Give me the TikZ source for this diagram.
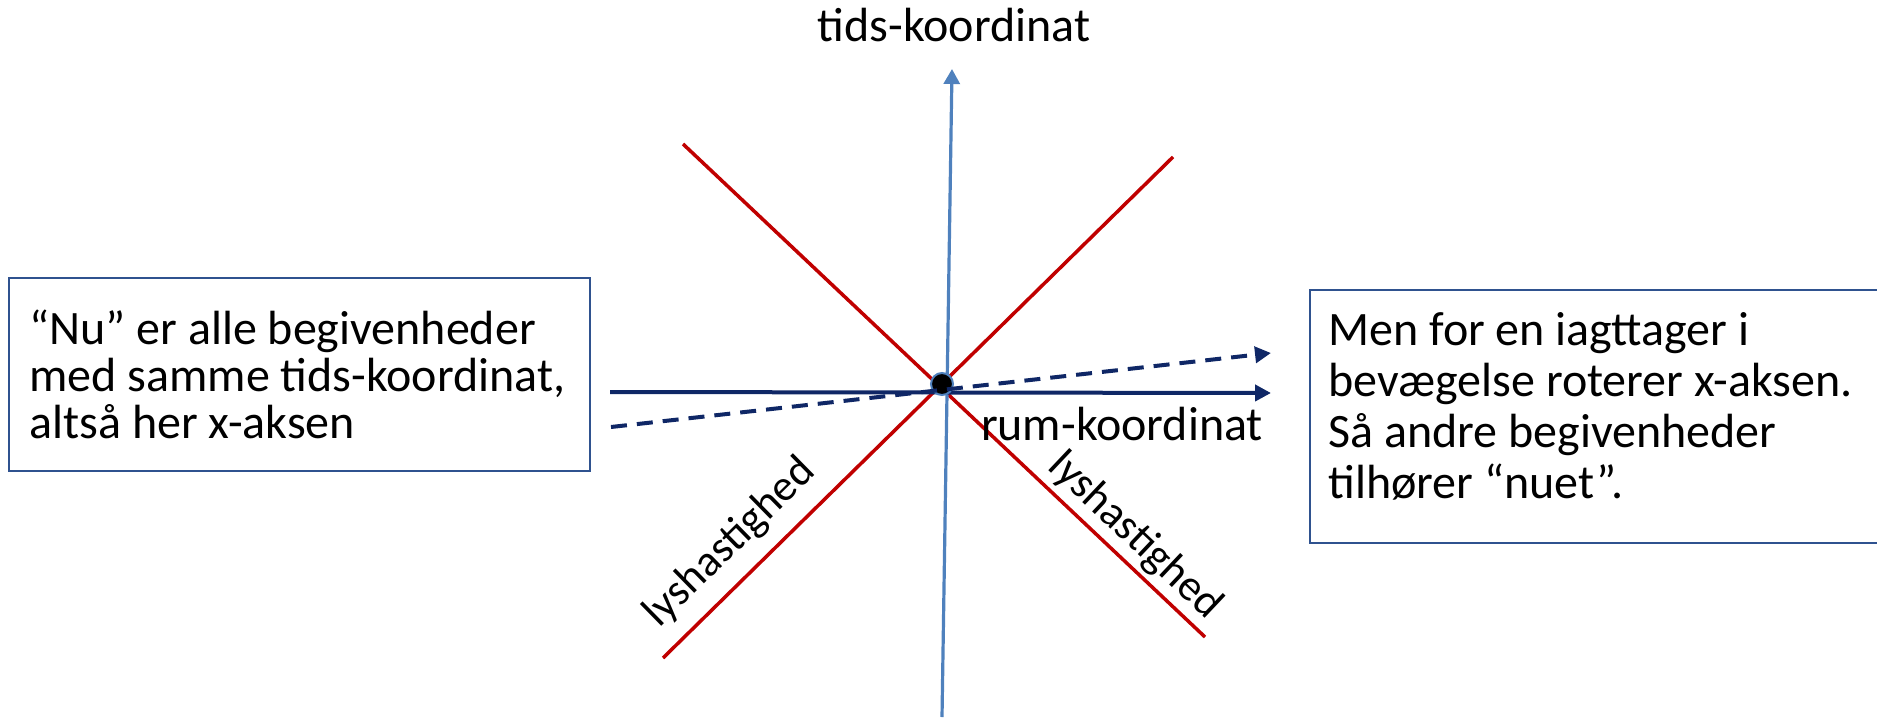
\documentclass[tikz,border=0pt]{standalone}
\usepackage{fontspec}
\setmainfont{Carlito}
\usetikzlibrary{arrows.meta}
\definecolor{axisblue}{HTML}{4F81BD}
\definecolor{lightred}{HTML}{C00000}
\definecolor{navy}{HTML}{0F2766}
\definecolor{boxblue}{HTML}{2F528F}
\tikzset{
  taxis/.style={draw=axisblue, line width=1.6pt, -{Triangle[length=7.5pt,width=8pt]}},
  lightline/.style={draw=lightred, line width=1.75pt},
  xaxis/.style={draw=navy, line width=2pt, -{Triangle[length=8pt,width=8pt]}},
  xdash/.style={xaxis, dash pattern=on 8pt off 5pt},
  txt/.style={font=\fontsize{24}{23.5}\selectfont, inner sep=0pt},
  slopetxt/.style={font=\fontsize{22}{23}\selectfont, inner sep=0pt},
  infobox/.style={draw=boxblue, line width=1pt, anchor=north west, inner sep=0pt},
  boxtxt/.style={txt, align=left, anchor=west},
  eventdot/.style={circle, fill=black, draw=axisblue, line width=1pt, minimum size=11pt, inner sep=0pt}
}
\begin{document}
\begin{tikzpicture}[x=0.5pt,y=-0.5pt]
\useasboundingbox (0,0) rectangle (1877,717);
% endpoints
\coordinate (tbot) at (942,717);
\coordinate (ttop) at (952,69);
\coordinate (r1a) at (683,144);
\coordinate (r1b) at (1205,637);
\coordinate (r2a) at (1173,157);
\coordinate (r2b) at (663,658);
\coordinate (xl) at (610,392);
\coordinate (xr) at (1271,393);
\coordinate (dl) at (611,427);
\coordinate (dr) at (1271,353);
% light lines
\draw[lightline] (r1a) -- (r1b);
\draw[lightline] (r2b) -- (r2a);
% time axis
\draw[taxis] (tbot) -- (ttop);
% x axis
\draw[xaxis] (xl) -- (xr);
% event
\node[eventdot] (origin) at (942,384) {};
% rotated x axis
\draw[xdash] (dl) -- (dr);
% labels
\node[txt, anchor=base] (tlabel) at (954,42) {tids-koordinat};
\node[txt, anchor=base] (xlabel) at (1122,440) {rum-koordinat};
\node[slopetxt, rotate=44.5] (ls1) at (730,543) {lyshastighed};
\node[slopetxt, rotate=-43.4] (ls2) at (1135,536) {lyshastighed};
% boxes
\node[infobox, minimum width=290.5pt, minimum height=96.5pt] (nubox) at (8,277) {};
\node[boxtxt] (nutext) at ([xshift=10.5pt]nubox.west)
  {“Nu” er alle begivenheder\\med samme tids-koordinat,\\altså her x-aksen};
\node[infobox, minimum width=287pt, minimum height=126.5pt] (obsbox) at (1309,289) {};
\node[boxtxt, font=\fontsize{24}{25.5}\selectfont, anchor=north west] (obstext) at (1328,312)
  {Men for en iagttager i\\bevægelse roterer x-aksen.\\Så andre begivenheder\\tilhører “nuet”.};
\end{tikzpicture}
\end{document}
